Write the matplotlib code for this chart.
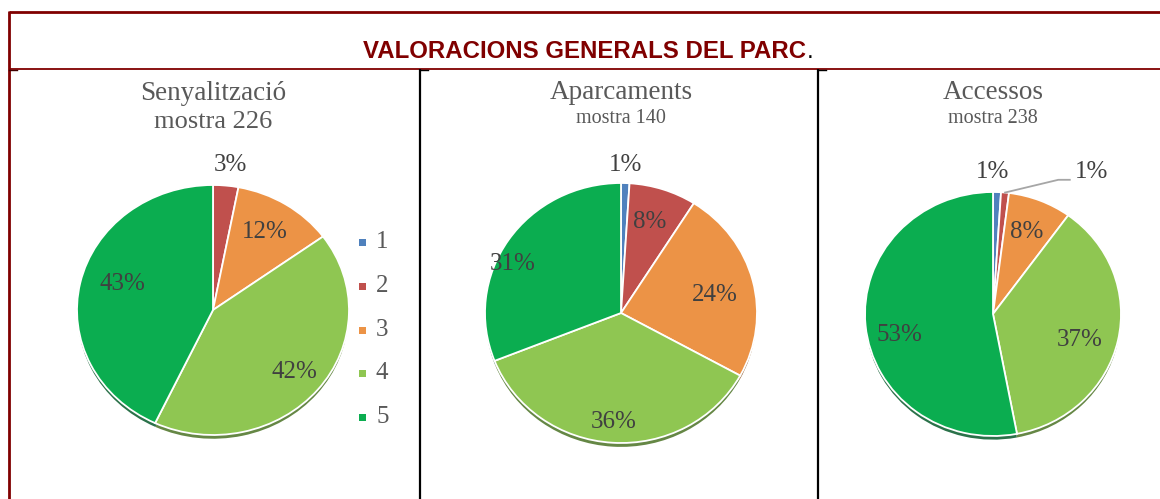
import matplotlib
matplotlib.use("Agg")
import matplotlib.pyplot as plt
import numpy as np
from matplotlib.patches import Rectangle

W, H = 1160, 499

# ---------------- data ----------------
categories = ['1', '2', '3', '4', '5']
titles = ['Senyalització', 'Aparcaments', 'Accessos']
subtitles = ['mostra 226', 'mostra 140', 'mostra 238']
senyalitzacio = [0, 3, 12, 42, 43]
aparcaments = [1, 8, 24, 36, 31]
accessos = [1, 1, 8, 37, 53]
main_title = 'VALORACIONS GENERALS DEL PARC'

# ---------------- style ----------------
colors = ['#4F81BD', '#C0504D', '#EC9346', '#8FC652', '#0BAD50']
shadow_colors = ['#2F4F75', '#7A2F2D', '#8A5526', '#4A7224', '#06592A']
serif = ['Liberation Serif', 'DejaVu Serif']
sans = ['Liberation Sans', 'DejaVu Sans']
label_color = '#404040'
title_color = '#595959'
dark_red = '#800000'

# pie geometry in pixels: centre x, centre y, radius x, radius y
geoms = [(213, 310, 136, 125), (621, 313, 136, 130), (993, 314, 128, 122)]
# label placement per slice: (radius factor, angle offset in degrees); None = no label
label_pos = [
    [None, (1.17, -1), (0.73, 1), (0.78, 0), (0.70, -5)],
    [(1.14, 0), (0.73, 1), (0.70, -3), (0.84, 0), (0.88, 9)],
    [(1.16, 2), 'leader', (0.72, 0), (0.71, -5), (0.75, 8)],
]
title_fs = [19.5, 19.5, 19.5]
sub_fs = [19, 14.5, 14.5]
title_base = [100, 99, 99]
sub_base = [128, 123, 123]

fig = plt.figure(figsize=(W / 100, H / 100), dpi=100)
bg = fig.add_axes([0, 0, 1, 1])
bg.set_xlim(0, W)
bg.set_ylim(H, 0)
bg.axis('off')

# frame lines
bg.plot([9, W], [12, 12], color=dark_red, lw=2.0, solid_capstyle='butt')
bg.plot([9, 9], [11, H], color=dark_red, lw=2.0, solid_capstyle='butt')
bg.plot([9, W], [68.5, 68.5], color=dark_red, lw=1.3, solid_capstyle='butt')
for xv in (420, 817.5):
    bg.plot([xv, xv], [69, H], color='black', lw=1.6, solid_capstyle='butt')
    bg.plot([xv, xv + 8], [69.5, 69.5], color='black', lw=1.0)
bg.plot([9, 17], [69.5, 69.5], color='#400000', lw=1.0)

# main title
t = bg.text(363, 58, main_title, color=dark_red, fontsize=17.3, fontweight='bold',
            family=sans, ha='left', va='baseline')
fig.canvas.draw()
bb = t.get_window_extent()
bg.text(bb.x1 + 1, 58, '.', color='black', fontsize=17.3, family=sans,
        ha='left', va='baseline')

series = [senyalitzacio, aparcaments, accessos]
for i, vals in enumerate(series):
    cx, cy, rx, ry = geoms[i]
    ax = fig.add_axes([(cx - rx) / W, 1 - (cy + ry) / H, 2 * rx / W, 2 * ry / H])
    # shadow
    ax.pie(vals, colors=shadow_colors, startangle=90, counterclock=False,
           center=(0.0, -0.035), radius=0.995,
           wedgeprops=dict(linewidth=0, alpha=0.85))
    wedges, _ = ax.pie(vals, colors=colors, startangle=90, counterclock=False,
                       radius=1.0,
                       wedgeprops=dict(edgecolor='white', linewidth=1.3))
    ax.set_aspect('auto')
    ax.set_xlim(-1, 1)
    ax.set_ylim(-1, 1)
    ax.axis('off')

    total = sum(vals)
    cum = 0.0
    for j, v in enumerate(vals):
        mid = 90 - (cum + v / 2) / total * 360
        cum += v
        lp = label_pos[i][j]
        if lp is None:
            continue
        txt = f'{v}%'
        if lp == 'leader':
            a = np.deg2rad(mid)
            p0 = (np.cos(a) * 1.0, np.sin(a) * 1.0)
            ax.plot([p0[0], 0.51, 0.60], [p0[1], 1.10, 1.10], color='#A6A6A6',
                    lw=1.3, clip_on=False)
            ax.text(0.77, 1.16, txt, ha='center', va='center', fontsize=18,
                    family=serif, color=label_color, clip_on=False)
            continue
        r, dth = lp
        a = np.deg2rad(mid + dth)
        ax.text(r * np.cos(a), r * np.sin(a), txt, ha='center', va='center',
                fontsize=18, family=serif, color=label_color, clip_on=False)

    bg.text(cx, title_base[i], titles[i], ha='center', va='baseline',
            fontsize=title_fs[i], family=serif, color=title_color)
    bg.text(cx, sub_base[i], subtitles[i], ha='center', va='baseline',
            fontsize=sub_fs[i], family=serif, color=title_color)

# legend (left panel)
leg_y = [242, 286, 330, 373, 417]
for k, cat in enumerate(categories):
    bg.add_patch(Rectangle((359, leg_y[k] - 3.5), 7, 7, color=colors[k], lw=0))
    bg.text(376, leg_y[k], cat, ha='left', va='center', fontsize=18,
            family=serif, color=title_color)

fig.savefig('out.png', dpi=100)
